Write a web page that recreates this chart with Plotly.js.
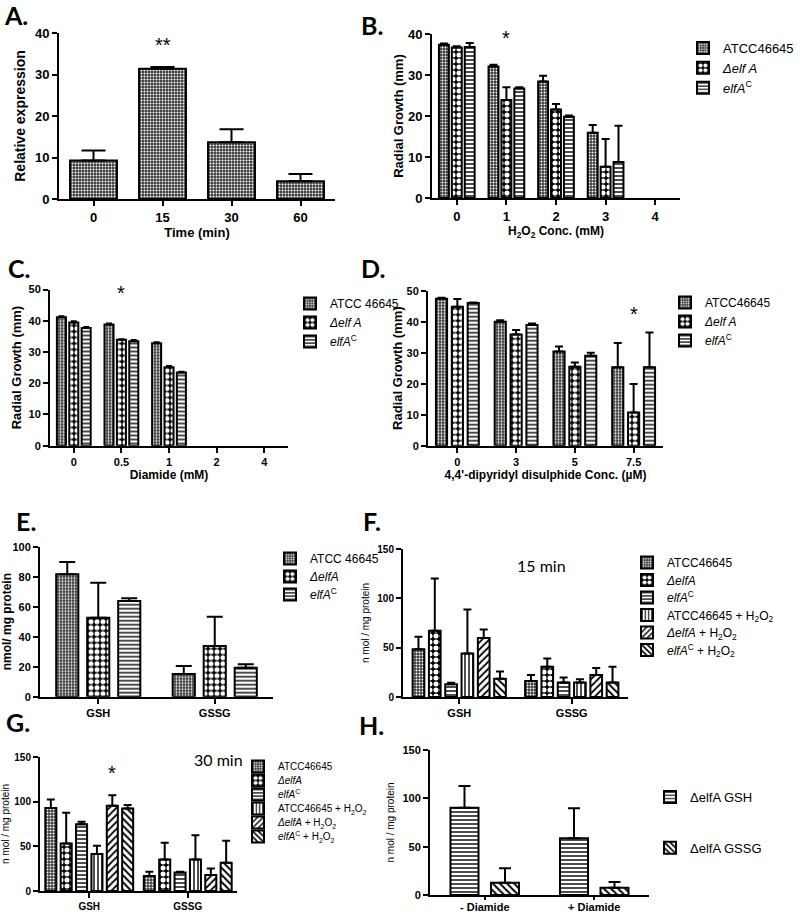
<!DOCTYPE html>
<html><head><meta charset="utf-8">
<script src="https://cdn.plot.ly/plotly-3.0.1.min.js"></script>
<style>html,body{margin:0;padding:0;background:#fff}#chart{width:800px;height:913px}</style>
</head><body><div id="chart"></div>
<script>
// ---------- DATA ----------
// Panel A
const timeCats = ['0', '15', '30', '60'];
const relExpr = [9.3, 31.4, 13.7, 4.3];
const relExprErr = [2.4, 0.4, 3.1, 1.7];

// Panel B (H2O2, mM)
const h2o2Cats = ['0', '1', '2', '3', '4'];
const bATCC = [37.4, 32.1, 28.4, 15.9, 0];
const bATCCErr = [0.3, 0.4, 1.4, 1.9, null];
const bDelta = [36.7, 23.9, 21.6, 7.6, 0];
const bDeltaErr = [0.3, 3.1, 1.3, 6.8, null];
const bComp = [36.8, 26.7, 19.8, 8.8, 0];
const bCompErr = [1.0, 0.3, 0.3, 8.8, null];

// Panel C (Diamide, mM)
const diamideCats = ['0', '0.5', '1', '2', '4'];
const cATCC = [41.1, 38.8, 32.8, 0, 0];
const cATCCErr = [0.3, 0.3, 0.3, null, null];
const cDelta = [39.4, 33.9, 25.1, 0, 0];
const cDeltaErr = [0.4, 0.2, 0.4, null, null];
const cComp = [37.7, 33.4, 23.4, 0, 0];
const cCompErr = [0.3, 0.4, 0.3, null, null];

// Panel D (4,4'-dipyridyl disulphide, uM)
const dpsCats = ['0', '3', '5', '7.5'];
const dATCC = [47.4, 40.0, 30.4, 25.3];
const dATCCErr = [0.3, 0.5, 1.6, 7.8];
const dDelta = [44.8, 35.9, 25.5, 10.7];
const dDeltaErr = [2.5, 1.4, 1.3, 9.2];
const dComp = [46.0, 38.9, 29.0, 25.3];
const dCompErr = [0.2, 0.5, 1.0, 11.2];

// Panel E
const glutCats = ['GSH', 'GSSG'];
const eATCC = [81.6, 15.1];
const eATCCErr = [8.2, 5.3];
const eDelta = [52.7, 33.8];
const eDeltaErr = [23.3, 19.5];
const eComp = [63.8, 19.3];
const eCompErr = [1.8, 2.3];

// Panel F (15 min)
const fATCC = [48.3, 16.2];   const fATCCErr = [12.7, 6.2];
const fDelta = [67.2, 30.7];  const fDeltaErr = [52.8, 8.3];
const fComp = [12.8, 14.8];   const fCompErr = [1.7, 4.9];
const fATCCH = [44.1, 14.8];  const fATCCHErr = [44.5, 3.1];
const fDeltaH = [59.7, 22.4]; const fDeltaHErr = [8.6, 6.9];
const fCompH = [18.6, 14.8];  const fCompHErr = [7.3, 15.9];

// Panel G (30 min)
const gATCC = [93.0, 16.7];   const gATCCErr = [9.3, 4.9];
const gDelta = [53.2, 35.4];  const gDeltaErr = [34.3, 18.6];
const gComp = [74.8, 20.8];   const gCompErr = [2.6, 0.8];
const gATCCH = [41.3, 35.4];  const gATCCHErr = [9.3, 27.1];
const gDeltaH = [95.3, 17.9]; const gDeltaHErr = [11.9, 7.4];
const gCompH = [92.3, 31.6];  const gCompHErr = [4.1, 24.6];

// Panel H
const diaCats = ['- Diamide', '+ Diamide'];
const hGSH = [90.3, 58.6];  const hGSHErr = [22.5, 31.1];
const hGSSG = [12.8, 7.6];  const hGSSGErr = [14.8, 5.8];

// Legend labels
const nATCC = 'ATCC46645';
const nATCCsp = 'ATCC 46645';
const nDeltaSp = '<i>Δelf A</i>';
const nDelta = '<i>ΔelfA</i>';
const nComp = '<i>elfA</i><sup>C</sup>';
const h2o2 = 'H<sub>2</sub>O<sub>2</sub>';
const nATCCH = 'ATCC46645 + ' + h2o2;
const nDeltaH = '<i>ΔelfA</i> + ' + h2o2;
const nCompH = '<i>elfA</i><sup>C</sup> + ' + h2o2;

// ---------- STYLE ----------
const FONT = 'Liberation Sans, Arial, sans-serif';
const pATCC = {shape: '.', bgcolor: '#3a3a3a', fgcolor: '#ffffff', size: 3, solidity: 0.35};
const pDelta = {shape: '.', bgcolor: '#000000', fgcolor: '#ffffff', size: 6, solidity: 0.55};
const pComp = {shape: '-', bgcolor: '#ffffff', fgcolor: '#000000', size: 4, solidity: 0.35};
const pATCCH = {shape: '|', bgcolor: '#ffffff', fgcolor: '#000000', size: 4, solidity: 0.35};
const pDeltaH = {shape: '/', bgcolor: '#ffffff', fgcolor: '#000000', size: 5, solidity: 0.35};
const pCompH = {shape: '\\', bgcolor: '#ffffff', fgcolor: '#000000', size: 5, solidity: 0.4};

function bars(xa, ya, cats, vals, errs, name, pat, legend, geom, idx, group) {
  const center = (idx - (geom.n - 1) / 2) * geom.s;
  const t = {
    type: 'bar', x: cats, y: vals, name: name, xaxis: xa, yaxis: ya,
    width: geom.w, offset: center - geom.w / 2,
    marker: {color: '#ffffff', opacity: vals.map(v => v === 0 ? 0 : 1),
             line: {color: '#000000', width: vals.map(v => v === 0 ? 0 : 2)}, pattern: pat},
    // missing error values -> NaN so Plotly skips the error bar entirely
    error_y: {type: 'data', array: errs.map(e => e == null ? NaN : e),
              arrayminus: errs.map(e => e == null ? NaN : 0), symmetric: false,
              color: '#000000', thickness: 2, width: geom.cap, visible: true},
    showlegend: !!legend, hoverinfo: 'skip', cliponaxis: false
  };
  if (legend) t.legend = legend;
  if (group) t.legendgroup = group;
  return t;
}

const gA = {n: 1, s: 0, w: 0.68, cap: 12};
const gB = {n: 3, s: 0.26, w: 0.2, cap: 4};
const gC = {n: 3, s: 0.26, w: 0.19, cap: 3};
const gD = {n: 3, s: 0.27, w: 0.19, cap: 4};
const gE = {n: 3, s: 0.266, w: 0.19, cap: 8};
const gF = {n: 6, s: 0.145, w: 0.104, cap: 4};
const gG = {n: 6, s: 0.156, w: 0.112, cap: 4};
const gH = {n: 2, s: 0.37, w: 0.256, cap: 6};

const traces = [
  bars('x', 'y', timeCats, relExpr, relExprErr, 'Relative expression', pATCC, null, gA, 0),

  bars('x2', 'y2', h2o2Cats, bATCC, bATCCErr, nATCC, pATCC, 'legend', gB, 0),
  bars('x2', 'y2', h2o2Cats, bDelta, bDeltaErr, nDeltaSp, pDelta, 'legend', gB, 1),
  bars('x2', 'y2', h2o2Cats, bComp, bCompErr, nComp, pComp, 'legend', gB, 2),

  bars('x3', 'y3', diamideCats, cATCC, cATCCErr, nATCCsp, pATCC, 'legend2', gC, 0),
  bars('x3', 'y3', diamideCats, cDelta, cDeltaErr, nDeltaSp, pDelta, 'legend2', gC, 1),
  bars('x3', 'y3', diamideCats, cComp, cCompErr, nComp, pComp, 'legend2', gC, 2),

  bars('x4', 'y4', dpsCats, dATCC, dATCCErr, nATCC, pATCC, 'legend3', gD, 0),
  bars('x4', 'y4', dpsCats, dDelta, dDeltaErr, nDeltaSp, pDelta, 'legend3', gD, 1),
  bars('x4', 'y4', dpsCats, dComp, dCompErr, nComp, pComp, 'legend3', gD, 2),

  bars('x5', 'y5', glutCats, eATCC, eATCCErr, nATCCsp, pATCC, 'legend4', gE, 0),
  bars('x5', 'y5', glutCats, eDelta, eDeltaErr, nDelta, pDelta, 'legend4', gE, 1),
  bars('x5', 'y5', glutCats, eComp, eCompErr, nComp, pComp, 'legend4', gE, 2),

  bars('x6', 'y6', glutCats, fATCC, fATCCErr, nATCC, pATCC, 'legend5', gF, 0),
  bars('x6', 'y6', glutCats, fDelta, fDeltaErr, nDelta, pDelta, 'legend5', gF, 1),
  bars('x6', 'y6', glutCats, fComp, fCompErr, nComp, pComp, 'legend5', gF, 2),
  bars('x6', 'y6', glutCats, fATCCH, fATCCHErr, nATCCH, pATCCH, 'legend5', gF, 3),
  bars('x6', 'y6', glutCats, fDeltaH, fDeltaHErr, nDeltaH, pDeltaH, 'legend5', gF, 4),
  bars('x6', 'y6', glutCats, fCompH, fCompHErr, nCompH, pCompH, 'legend5', gF, 5),

  bars('x7', 'y7', glutCats, gATCC, gATCCErr, nATCC, pATCC, 'legend6', gG, 0),
  bars('x7', 'y7', glutCats, gDelta, gDeltaErr, nDelta, pDelta, 'legend6', gG, 1),
  bars('x7', 'y7', glutCats, gComp, gCompErr, nComp, pComp, 'legend6', gG, 2),
  bars('x7', 'y7', glutCats, gATCCH, gATCCHErr, nATCCH, pATCCH, 'legend6', gG, 3),
  bars('x7', 'y7', glutCats, gDeltaH, gDeltaHErr, nDeltaH, pDeltaH, 'legend6', gG, 4),
  bars('x7', 'y7', glutCats, gCompH, gCompHErr, nCompH, pCompH, 'legend6', gG, 5),

  bars('x8', 'y8', diaCats, hGSH, hGSHErr, 'ΔelfA GSH', pComp, 'legend7', gH, 0, 'h1'),
  bars('x8', 'y8', diaCats, hGSSG, hGSSGErr, 'ΔelfA GSSG', pCompH, 'legend7', gH, 1, 'h2')
];

// ---------- LAYOUT ----------
const W = 800, H = 913;
const px = v => v / W;
const py = v => 1 - v / H;

function xax(l, r, anchor, n, fs, title, tfs, extra) {
  const a = {
    domain: [px(l), px(r)], anchor: anchor, type: 'category', range: [-0.5, n - 0.5],
    showline: true, linecolor: '#000', linewidth: 2, mirror: false,
    ticks: 'outside', ticklen: 5, tickwidth: 2, tickcolor: '#000',
    showgrid: false, zeroline: false, fixedrange: true,
    tickfont: {family: FONT, size: fs, weight: 'bold', color: '#000'}
  };
  if (title) a.title = {text: title, standoff: 4, font: {family: FONT, size: tfs, weight: 'bold', color: '#000'}};
  return Object.assign(a, extra || {});
}
function yax(bottom, top, anchor, max, dtick, fs, title, tfs, bold, standoff) {
  return {
    domain: [py(bottom), py(top)], anchor: anchor, range: [0, max], dtick: dtick, tick0: 0,
    showline: true, linecolor: '#000', linewidth: 2,
    ticks: 'outside', ticklen: 5, tickwidth: 2, tickcolor: '#000',
    showgrid: false, zeroline: false, fixedrange: true,
    tickfont: {family: FONT, size: fs, weight: 'bold', color: '#000'},
    title: {text: title, standoff: standoff, font: {family: FONT, size: tfs, weight: bold ? 'bold' : 'normal', color: '#000'}}
  };
}
function leg(xp, yp, fs, extra) {
  return Object.assign({
    x: px(xp), y: py(yp), xanchor: 'left', yanchor: 'top', xref: 'paper', yref: 'paper',
    bgcolor: 'rgba(0,0,0,0)', borderwidth: 0, traceorder: 'normal',
    font: {family: FONT, size: fs, color: '#000'}
  }, extra || {});
}
function letter(t, xp, yp) {
  return {text: t, xref: 'paper', yref: 'paper', x: px(xp), y: py(yp), xanchor: 'left', yanchor: 'middle',
          showarrow: false, font: {family: 'Lato, sans-serif', size: 25, weight: 'bold', color: '#000'}};
}
function star(t, xa, ya, cats, cat, yv, xs) {
  return {text: t, xref: xa, yref: ya, x: cats.indexOf(cat), y: yv, xshift: xs || 0, showarrow: false,
          yanchor: 'middle', font: {family: FONT, size: 20, color: '#000'}};
}

const layout = {
  width: W, height: H, margin: {l: 0, r: 0, t: 0, b: 0},
  paper_bgcolor: '#fff', plot_bgcolor: 'rgba(0,0,0,0)',
  barmode: 'overlay', showlegend: true,
  font: {family: FONT, color: '#000'},

  xaxis: xax(59, 335, 'y', timeCats.length, 13, 'Time (min)', 13),
  yaxis: yax(199, 33, 'x', 40, 10, 13, 'Relative expression', 14, true, 6),

  xaxis2: xax(432, 680, 'y2', h2o2Cats.length, 13, 'H<sub>2</sub>O<sub>2</sub> Conc. (mM)', 12),
  yaxis2: yax(198, 34, 'x2', 40, 10, 13, 'Radial Growth (mm)', 13, true, 1),

  xaxis3: xax(50, 288, 'y3', diamideCats.length, 11, 'Diamide (mM)', 12),
  yaxis3: yax(445.7, 289.5, 'x3', 50, 10, 11, 'Radial Growth (mm)', 13, true, 4),

  xaxis4: xax(428, 663, 'y4', dpsCats.length, 11, "4,4'-dipyridyl disulphide Conc. (µM)", 12),
  yaxis4: yax(445.7, 290.7, 'x4', 50, 10, 11, 'Radial Growth (mm)', 13, true, 1),

  xaxis5: xax(40, 273, 'y5', glutCats.length, 11),
  yaxis5: yax(696.7, 546.7, 'x5', 100, 20, 11, 'nmol/ mg protein', 12, true, 4),

  xaxis6: xax(403, 628, 'y6', glutCats.length, 11),
  yaxis6: yax(697, 549, 'x6', 150, 50, 10, 'n mol / mg protein', 10, false, 6),

  xaxis7: xax(40, 237, 'y7', glutCats.length, 10),
  yaxis7: yax(891, 757, 'x7', 150, 50, 10, 'n mol / mg protein', 10, false, 4),

  xaxis8: xax(430, 649, 'y8', diaCats.length, 11, null, null, {ticklen: 3, ticklabelstandoff: -2}),
  yaxis8: yax(895, 750, 'x8', 150, 50, 11, 'n mol / mg protein', 10, false, 6),

  legend: leg(683, 33, 13),
  legend2: leg(290, 289, 12),
  legend3: leg(665, 288, 12),
  legend4: leg(270, 544, 12),
  legend5: leg(627, 548, 12),
  legend6: leg(238, 752, 10),
  legend7: leg(650, 782, 13, {traceorder: 'grouped', tracegroupgap: 31}),

  annotations: [
    letter('A.', 2, 15), letter('B.', 359, 25), letter('C.', 6, 268), letter('D.', 359, 268),
    letter('E.', 14, 521), letter('F.', 361, 521), letter('G.', 4, 722), letter('H.', 357, 725),
    star('**', 'x', 'y', timeCats, '15', 37.0),
    star('*', 'x2', 'y2', h2o2Cats, '1', 39),
    star('*', 'x3', 'y3', diamideCats, '0.5', 48.9),
    star('*', 'x4', 'y4', dpsCats, '7.5', 42.5),
    star('*', 'x7', 'y7', glutCats, 'GSH', 132, 23),
    {text: '15 min', xref: 'paper', yref: 'paper', x: px(568), y: py(565), showarrow: false,
     font: {family: 'Lato, sans-serif', size: 16, color: '#000'}},
    {text: '30 min', xref: 'paper', yref: 'paper', x: px(192), y: py(771), showarrow: false,
     font: {family: 'Lato, sans-serif', size: 16, color: '#000'}}
  ]
};

// tighten legend row spacing where the original packs entries closer than Plotly's minimum
function compressLegend(gd, cls, f) {
  const g = gd.querySelector('g.' + cls);
  if (!g) return;
  let y0 = null;
  g.querySelectorAll('g.traces').forEach(it => {
    const m = /translate\(\s*([-\d.e]+)[\s,]+([-\d.e]+)\s*\)/.exec(it.getAttribute('transform') || '');
    if (!m) return;
    const x = +m[1], y = +m[2];
    if (y0 === null) y0 = y;
    it.setAttribute('transform', 'translate(' + x + ',' + (y0 + (y - y0) * f) + ')');
  });
}

Plotly.newPlot('chart', traces, layout, {staticPlot: true, displayModeBar: false}).then(gd => {
  compressLegend(gd, 'legend6', 14 / 19);
  compressLegend(gd, 'legend5', 17.5 / 19);
  compressLegend(gd, 'legend4', 18 / 19);
});
</script></body></html>
